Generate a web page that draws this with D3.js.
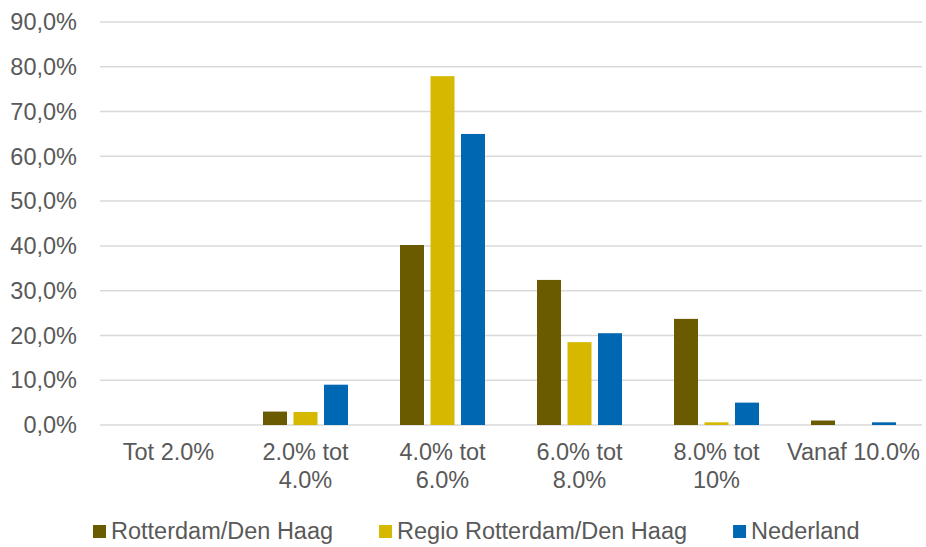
<!DOCTYPE html>
<html>
<head>
<meta charset="utf-8">
<script src="https://cdn.jsdelivr.net/npm/d3@7"></script>
<style>
  body { margin: 0; background: #fff; }
  text { font-family: "Liberation Sans", Arial, sans-serif; fill: #595959; }
</style>
</head>
<body>
<div id="chart"></div>
<script>
const categories = ["Tot 2.0%", "2.0% tot 4.0%", "4.0% tot 6.0%", "6.0% tot 8.0%", "8.0% tot 10%", "Vanaf 10.0%"]
const seriesNames = ["Rotterdam/Den Haag", "Regio Rotterdam/Den Haag", "Nederland"]
const rotterdamDenHaag = [0, 3.0, 40.2, 32.4, 23.7, 1.0]
const regioRotterdam = [0, 2.9, 77.9, 18.5, 0.6, 0]
const nederland = [0, 9.0, 65.0, 20.5, 5.0, 0.6]
const yTicks = [0, 10, 20, 30, 40, 50, 60, 70, 80, 90]

const colors = ["#6B5B00", "#D6B800", "#0068B3"]
const seriesValues = [rotterdamDenHaag, regioRotterdam, nederland]

const width = 926,
    height = 547,
    fontSize = 23.5;

const svg = d3.select("#chart")
    .append("svg")
    .attr("width", width)
    .attr("height", height)

const x0 = d3.scaleBand()
    .domain(categories)
    .range([100, 922])

const x1 = d3.scaleBand()
    .domain(seriesNames)
    .range([x0.bandwidth() / 2 - 45.75, x0.bandwidth() / 2 + 45.75])
    .paddingInner(0.213)
    .paddingOuter(0.1065)

const y = d3.scaleLinear()
    .domain([0, 90])
    .range([425, 22])

// gridlines
svg.append("g")
    .selectAll("line")
    .data(yTicks)
    .join("line")
    .attr("x1", 100)
    .attr("x2", 922)
    .attr("y1", d => y(d))
    .attr("y2", d => y(d))
    .attr("stroke", "#d9d9d9")
    .attr("stroke-width", 1.5)

// y labels
svg.append("g")
    .selectAll("text")
    .data(yTicks)
    .join("text")
    .attr("x", 77)
    .attr("y", d => y(d))
    .attr("dy", "0.35em")
    .attr("text-anchor", "end")
    .style("font-size", fontSize + "px")
    .text(d => d.toFixed(1).replace(".", ",") + "%")

// bars
const rows = categories.map((c, i) => ({
    cat: c,
    vals: seriesNames.map((s, j) => ({ key: s, value: seriesValues[j][i], color: colors[j] }))
}))

svg.append("g")
    .selectAll("g")
    .data(rows)
    .join("g")
    .attr("transform", d => `translate(${x0(d.cat)},0)`)
    .selectAll("rect")
    .data(d => d.vals)
    .join("rect")
    .attr("x", d => x1(d.key))
    .attr("width", x1.bandwidth())
    .attr("y", d => y(d.value))
    .attr("height", d => y(0) - y(d.value))
    .attr("fill", d => d.color)

// x labels, wrapped to the band width
const xLabels = svg.append("g")
    .selectAll("text")
    .data(categories)
    .join("text")
    .attr("x", d => x0(d) + x0.bandwidth() / 2)
    .attr("y", 460)
    .attr("text-anchor", "middle")
    .style("font-size", fontSize + "px")

xLabels.each(function (d) {
    const t = d3.select(this)
    const words = d.split(" ")
    let line = []
    let lineNo = 0
    let tspan = t.append("tspan").attr("x", x0(d) + x0.bandwidth() / 2).attr("dy", 0)
    words.forEach(w => {
        line.push(w)
        tspan.text(line.join(" "))
        if (tspan.node().getComputedTextLength() > x0.bandwidth() && line.length > 1) {
            line.pop()
            tspan.text(line.join(" "))
            line = [w]
            lineNo++
            tspan = t.append("tspan").attr("x", x0(d) + x0.bandwidth() / 2).attr("dy", 28).text(w)
        }
    })
})

// legend
const legend = svg.append("g")
let lx = 93
seriesNames.forEach((s, i) => {
    legend.append("rect")
        .attr("x", lx)
        .attr("y", 525)
        .attr("width", 13)
        .attr("height", 13)
        .attr("fill", colors[i])
    const t = legend.append("text")
        .attr("x", lx + 18)
        .attr("y", 539)
        .style("font-size", fontSize + "px")
        .text(s)
    lx += 18 + t.node().getComputedTextLength() + 46
})
</script>
</body>
</html>
